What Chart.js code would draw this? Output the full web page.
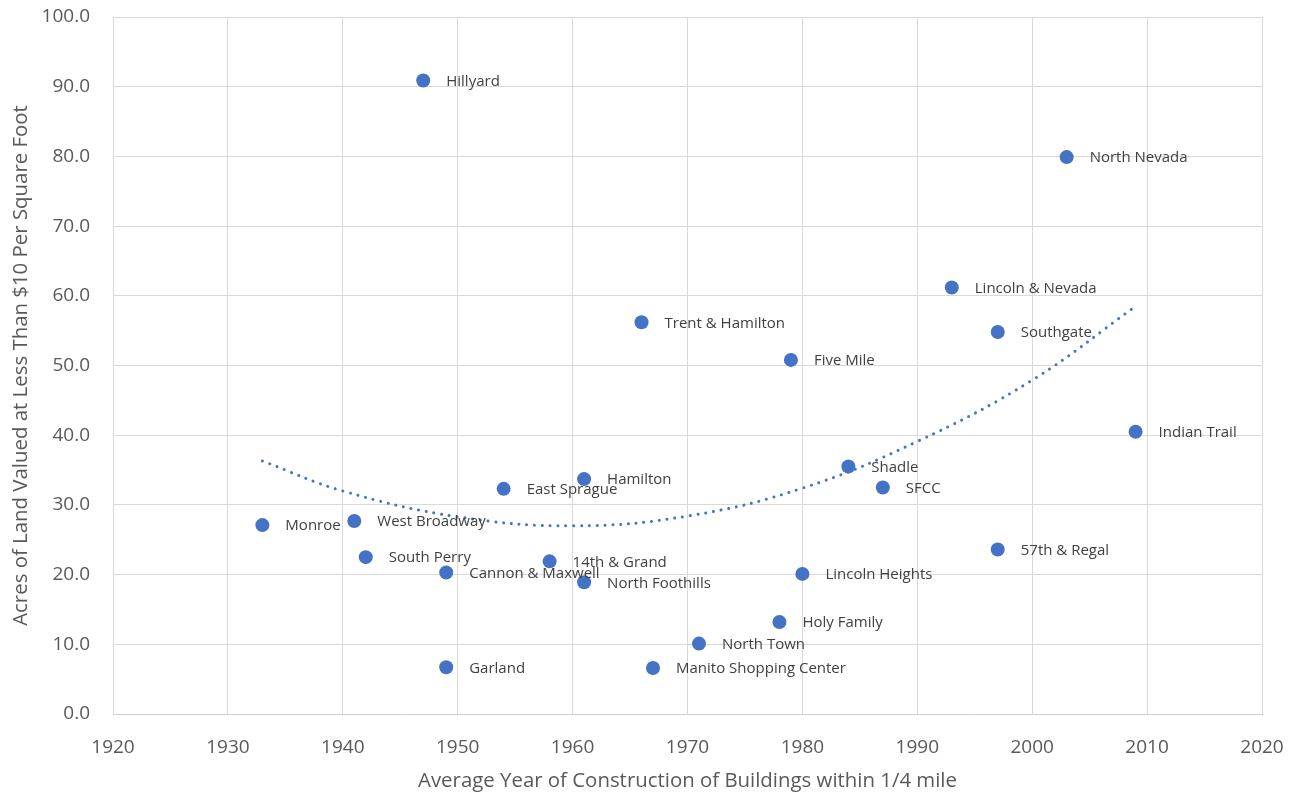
<!DOCTYPE html>
<html>
<head>
<meta charset="utf-8">
<script src="https://cdn.jsdelivr.net/npm/chart.js@4.4.1/dist/chart.umd.min.js"></script>
<style>
  html, body { margin: 0; padding: 0; background: #ffffff; }
  #wrap { width: 1298px; height: 796px; }
</style>
</head>
<body>
<div id="wrap"><canvas id="c" width="1298" height="796"></canvas></div>
<script>
// Neighborhood centers: average construction year vs. acres of cheap land
const names = [
  "Hillyard", "North Nevada", "Lincoln & Nevada", "Southgate", "Trent & Hamilton",
  "Five Mile", "Indian Trail", "Shadle", "SFCC", "Hamilton", "East Sprague",
  "Monroe", "West Broadway", "South Perry", "Cannon & Maxwell", "14th & Grand",
  "North Foothills", "57th & Regal", "Lincoln Heights", "Holy Family",
  "North Town", "Garland", "Manito Shopping Center"
];
const years = [
  1947, 2003, 1993, 1997, 1966,
  1979, 2009, 1984, 1987, 1961, 1954,
  1933, 1941, 1942, 1949, 1958,
  1961, 1997, 1980, 1978,
  1971, 1949, 1967
];
const acres = [
  90.9, 79.9, 61.2, 54.8, 56.2,
  50.8, 40.5, 35.5, 32.5, 33.7, 32.3,
  27.1, 27.7, 22.5, 20.3, 21.9,
  18.9, 23.6, 20.1, 13.2,
  10.1, 6.7, 6.6
];

// Second-order trend curve, sampled along the construction-year axis
const trendYears = [1933, 1940, 1950, 1960, 1970, 1980, 1990, 2000, 2009];
const trendAcres = [36.3, 32.0, 28.3, 27.0, 28.4, 32.4, 39.1, 47.9, 58.5];

const xTicks = { min: 1920, max: 2020, step: 10 };
const yTicks = { min: 0, max: 100, step: 10 };

const FONT = "'Open Sans', 'Noto Sans', sans-serif";
const BLUE = "#4472C4";
const GRID = "#d9d9d9";
const TEXT = "#595959";

const points = years.map((x, i) => ({ x: x, y: acres[i], name: names[i] }));
const trend = trendYears.map((x, i) => ({ x: x, y: trendAcres[i] }));

// Draws each neighborhood name just to the right of its marker
const pointLabels = {
  id: "pointLabels",
  afterDatasetsDraw(chart) {
    const ctx = chart.ctx;
    const meta = chart.getDatasetMeta(0);
    ctx.save();
    ctx.font = "15px " + FONT;
    ctx.fillStyle = "#404040";
    ctx.textAlign = "left";
    ctx.textBaseline = "middle";
    meta.data.forEach((el, i) => {
      ctx.fillText(points[i].name, el.x + 23, el.y + 1);
    });
    ctx.restore();
  }
};

new Chart(document.getElementById("c"), {
  type: "scatter",
  data: {
    datasets: [
      {
        label: "Acres",
        data: points,
        backgroundColor: BLUE,
        borderColor: BLUE,
        pointRadius: 7,
        pointHoverRadius: 7,
        borderWidth: 0
      },
      {
        label: "Trend",
        data: trend,
        showLine: true,
        tension: 0.4,
        borderColor: BLUE,
        borderWidth: 3,
        borderDash: [0.01, 7.8],
        borderCapStyle: "round",
        pointRadius: 0,
        fill: false
      }
    ]
  },
  options: {
    responsive: false,
    animation: false,
    events: [],
    layout: { padding: { top: 17, right: 36, left: 0, bottom: 0 } },
    plugins: {
      legend: { display: false },
      tooltip: { enabled: false }
    },
    scales: {
      x: {
        type: "linear",
        min: xTicks.min,
        max: xTicks.max,
        afterFit(scale) {
          scale.height = 82;
          scale.paddingLeft = 0;
          scale.paddingRight = 0;
        },
        ticks: {
          stepSize: xTicks.step,
          padding: 22,
          color: TEXT,
          font: { family: FONT, size: 19 },
          maxRotation: 0,
          callback: (v) => String(v)
        },
        grid: { color: GRID, lineWidth: 1, drawTicks: false },
        border: { color: "#cfcfcf", width: 1 },
        title: {
          display: true,
          text: "Average Year of Construction of Buildings within 1/4 mile",
          color: TEXT,
          font: { family: FONT, size: 20.4 },
          padding: { top: 0, bottom: 3 }
        }
      },
      y: {
        type: "linear",
        min: yTicks.min,
        max: yTicks.max,
        afterFit(scale) {
          scale.width = 113;
          scale.paddingTop = 0;
          scale.paddingBottom = 0;
        },
        ticks: {
          stepSize: yTicks.step,
          padding: 23,
          color: TEXT,
          font: { family: FONT, size: 19 },
          callback: (v) => Number(v).toFixed(1)
        },
        grid: { color: GRID, lineWidth: 1, drawTicks: false },
        border: { color: GRID, width: 1 },
        title: {
          display: true,
          text: "Acres of Land Valued at Less Than $10 Per Square Foot",
          color: TEXT,
          font: { family: FONT, size: 20.4 },
          padding: { top: 9, bottom: 0 }
        }
      }
    }
  },
  plugins: [pointLabels]
});
</script>
</body>
</html>
